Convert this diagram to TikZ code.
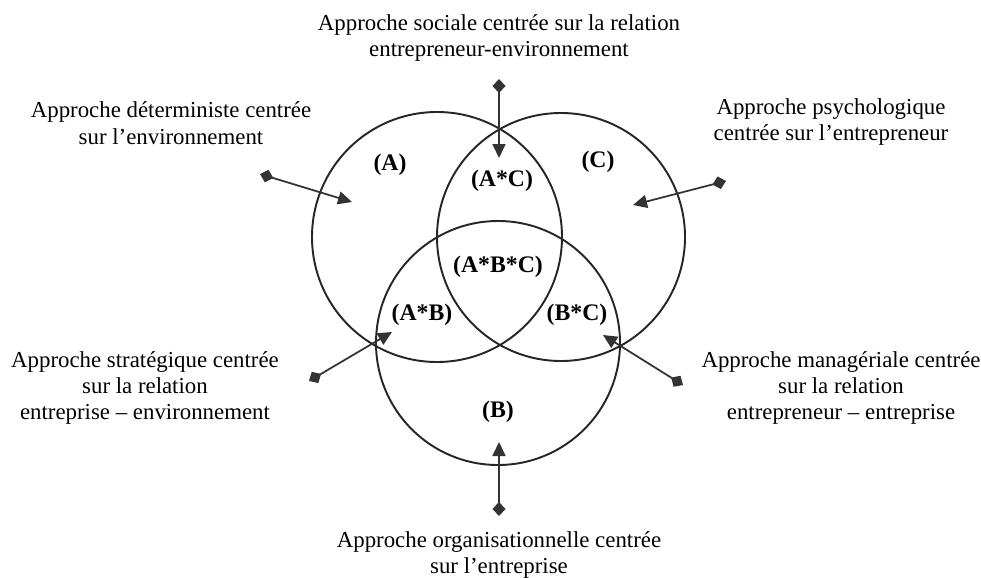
\documentclass[tikz,border=0pt]{standalone}
\usepackage{fontspec}
\setmainfont{Liberation Serif}
\usetikzlibrary{arrows.meta,positioning}
\tikzset{
 approche/.style={align=center,font=\fontsize{13}{15}\selectfont,inner sep=0pt},
 zone/.style={font=\fontsize{13.5}{15}\selectfont\bfseries,inner sep=0pt},
 ensemble/.style={draw=black!85,line width=1.1pt},
 lien/.style={{Diamond[length=2.8mm,width=2.6mm]}-{Triangle[length=2.8mm,width=2.6mm]},line width=1pt,draw=black!80}}

\begin{document}
\begin{tikzpicture}[x=0.02cm,y=-0.02cm]
\useasboundingbox (0,0) rectangle (981,578);
% les trois ensembles
\coordinate (cA) at (437,237);
\coordinate (cC) at (561,237);
\coordinate (cB) at (498,343);
\draw[ensemble] (cA) circle (125);
\draw[ensemble] (cC) circle (124);
\draw[ensemble] (cB) circle (122);
\node[zone] (zA) at (390,165) {(A)};
\node[zone] (zC) at (598,162) {(C)};
\node[zone] (zAC) at (502,181) {(A*C)};
\node[zone] (zABC) at (498,267) {(A*B*C)};
\node[zone] (zAB) at (422,315) {(A*B)};
\node[zone] (zBC) at (577,315) {(B*C)};
\node[zone] (zB) at (498,412) {(B)};
% les approches
\node[approche] (sociale) at (499,38) {Approche sociale centrée sur la relation\\entrepreneur-environnement};
\node[approche] (determ) at (171,123) {Approche déterministe centrée\\sur l’environnement};
\node[approche] (psycho) at (831,122) {Approche psychologique\\centrée sur l’entrepreneur};
\node[approche] (strat) at (145,388) {Approche stratégique centrée\\sur la relation\\entreprise – environnement};
\node[approche] (manag) at (841,388) {Approche managériale centrée\\sur la relation\\entrepreneur – entreprise};
\node[approche] (organi) at (499,555) {Approche organisationnelle centrée\\sur l’entreprise};
% fleches
\coordinate (sociale-d) at (499,79); \coordinate (sociale-f) at (499,158);
\coordinate (determ-d) at (260,174); \coordinate (determ-f) at (352,202);
\coordinate (psycho-d) at (726,181); \coordinate (psycho-f) at (633,205);
\coordinate (strat-d) at (309,381); \coordinate (strat-f) at (392,332);
\coordinate (manag-d) at (683,385); \coordinate (manag-f) at (603,335);
\coordinate (organi-d) at (499,516); \coordinate (organi-f) at (499,442);
\foreach \a in {sociale,determ,psycho,strat,manag,organi}
 \draw[lien] (\a-d)--(\a-f);
\end{tikzpicture}
\end{document}
